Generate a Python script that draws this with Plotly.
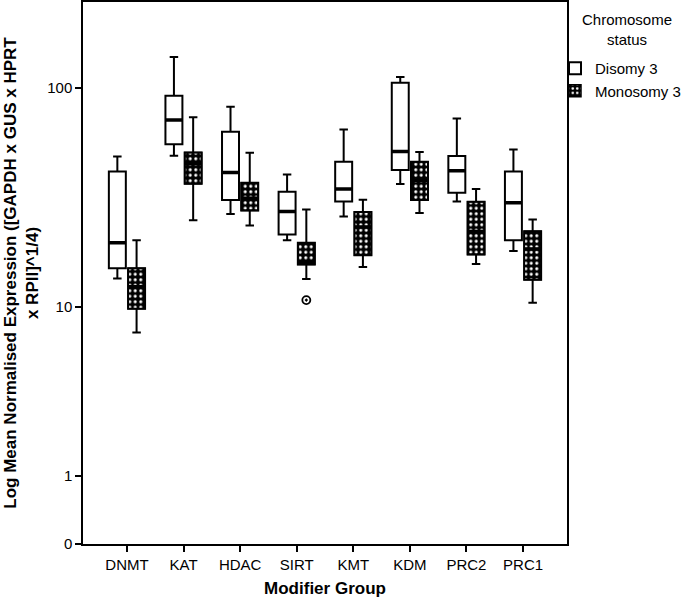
import numpy as np
import plotly.graph_objects as go

# ---------------- data ----------------
categories = ["DNMT", "KAT", "HDAC", "SIRT", "KMT", "KDM", "PRC2", "PRC1"]

disomy_lower = [13.7, 49.8, 27.2, 20.6, 26.5, 37.2, 31.0, 18.4]
disomy_q1 = [15.3, 56.2, 31.5, 21.9, 31.0, 43.0, 34.0, 20.6]
disomy_median = [20.1, 72.0, 41.9, 27.9, 35.3, 52.1, 42.7, 30.6]
disomy_q3 = [42.4, 92.4, 63.8, 34.3, 46.9, 105.5, 49.7, 42.4]
disomy_upper = [49.5, 137.0, 82.5, 41.1, 65.4, 111.8, 73.2, 53.2]

mono_lower = [7.5, 25.5, 24.1, 13.6, 15.5, 27.5, 16.0, 10.5]
mono_q1 = [9.8, 37.3, 28.2, 15.9, 17.6, 31.5, 17.7, 13.5]
mono_median = [12.5, 45.9, 32.1, 16.3, 23.7, 38.6, 22.6, 18.8]
mono_q3 = [15.3, 51.6, 37.7, 20.1, 27.8, 46.9, 30.9, 22.7]
mono_upper = [20.6, 74.0, 51.4, 28.5, 31.6, 51.8, 35.3, 25.7]

outlier_group = ["SIRT"]
outlier_value = [10.8]

y_tick_values = [0, 1, 10, 100]
y_max_value = 240


# SPSS "safe log" scale: log10(1 + y)
def slog(v):
    return np.log10(1 + np.asarray(v, dtype=float))


# ---------------- styling constants ----------------
OFFSET = 0.17
BOX_W = 0.30
FONT = "Liberation Sans, Arial, sans-serif"

pos = np.arange(len(categories))
dis_x = pos - OFFSET
mon_x = pos + OFFSET

fig = go.Figure()

# patterned fill for Monosomy 3 boxes (drawn first, beneath the box outlines)
fig.add_trace(go.Bar(
    x=mon_x,
    base=slog(mono_q1),
    y=slog(mono_q3) - slog(mono_q1),
    width=BOX_W,
    name="Monosomy 3",
    legendrank=2,
    marker=dict(
        color="black",
        line=dict(color="black", width=1.5),
        pattern=dict(shape=".", bgcolor="black", fgcolor="white",
                     size=5.5, solidity=0.25, fgopacity=1),
    ),
    hoverinfo="skip",
))

common = dict(width=BOX_W, whiskerwidth=0.5, line=dict(color="black", width=2),
              boxpoints=False, hoverinfo="skip")

fig.add_trace(go.Box(
    x=dis_x,
    q1=slog(disomy_q1), median=slog(disomy_median), q3=slog(disomy_q3),
    lowerfence=slog(disomy_lower), upperfence=slog(disomy_upper),
    fillcolor="white", name="Disomy 3", legendrank=1, **common,
))

fig.add_trace(go.Box(
    x=mon_x,
    q1=slog(mono_q1), median=slog(mono_median), q3=slog(mono_q3),
    lowerfence=slog(mono_lower), upperfence=slog(mono_upper),
    fillcolor="rgba(0,0,0,0)", name="Monosomy 3", showlegend=False, **common,
))

# thick median bars
for xs, med in ((dis_x, disomy_median), (mon_x, mono_median)):
    m = slog(med)
    fig.add_trace(go.Box(
        x=xs, q1=m, median=m, q3=m, lowerfence=m, upperfence=m,
        width=BOX_W, whiskerwidth=0, line=dict(color="black", width=3.5),
        fillcolor="rgba(0,0,0,0)", boxpoints=False, showlegend=False,
        hoverinfo="skip",
    ))

# outlier
out_x = [pos[categories.index(g)] + OFFSET for g in outlier_group]
fig.add_trace(go.Scatter(
    x=out_x, y=slog(outlier_value), mode="markers", showlegend=False,
    marker=dict(symbol="circle-open-dot", size=8, color="black",
                line=dict(color="black", width=1.8)),
    hoverinfo="skip",
))

fig.update_layout(
    width=682, height=604,
    margin=dict(l=83, r=115, t=2, b=60, autoexpand=False),
    paper_bgcolor="white", plot_bgcolor="white",
    font=dict(family=FONT, color="black", size=15),
    barmode="overlay",
    boxmode="overlay",
    hovermode=False,
    legend=dict(
        xref="container", yref="container",
        x=555 / 682, xanchor="left", y=1 - 52 / 604, yanchor="top",
        bgcolor="rgba(0,0,0,0)",
        font=dict(size=15, family=FONT),
        tracegroupgap=0, itemwidth=30,
    ),
    showlegend=True,
    annotations=[dict(
        text="Chromosome<br>status", xref="paper", yref="paper",
        x=(627 - 83) / 484, y=1 - 7 / 542, xanchor="center", yanchor="top",
        align="center", showarrow=False, font=dict(size=15, family=FONT),
    )],
)

fig.update_xaxes(
    range=[-0.777, len(categories) - 1 + 0.777],
    tickmode="array", tickvals=pos, ticktext=categories,
    ticks="outside", ticklen=6, tickwidth=1.5, tickcolor="black",
    showline=True, linecolor="black", linewidth=1.5, mirror=True,
    showgrid=False, zeroline=False, automargin=False,
    tickfont=dict(size=15, family=FONT),
    title=dict(text="<b>Modifier Group</b>", font=dict(size=17, family=FONT),
               standoff=10),
)

fig.update_yaxes(
    range=[0, float(slog(y_max_value))],
    tickmode="array", tickvals=slog(y_tick_values),
    ticktext=[str(v) for v in y_tick_values],
    ticks="outside", ticklen=6, tickwidth=1.5, tickcolor="black",
    showline=True, linecolor="black", linewidth=1.5, mirror=True,
    showgrid=False, zeroline=False, automargin=False,
    tickfont=dict(size=15, family=FONT),
    title=dict(text="<b>Log Mean Normalised Expression ([GAPDH x GUS x HPRT<br>x RPII]^1/4)</b>",
               font=dict(size=17, family=FONT), standoff=4),
)

fig.write_html("out.html",
               config={"displayModeBar": False},
               post_script="document.body.style.margin='0';")
